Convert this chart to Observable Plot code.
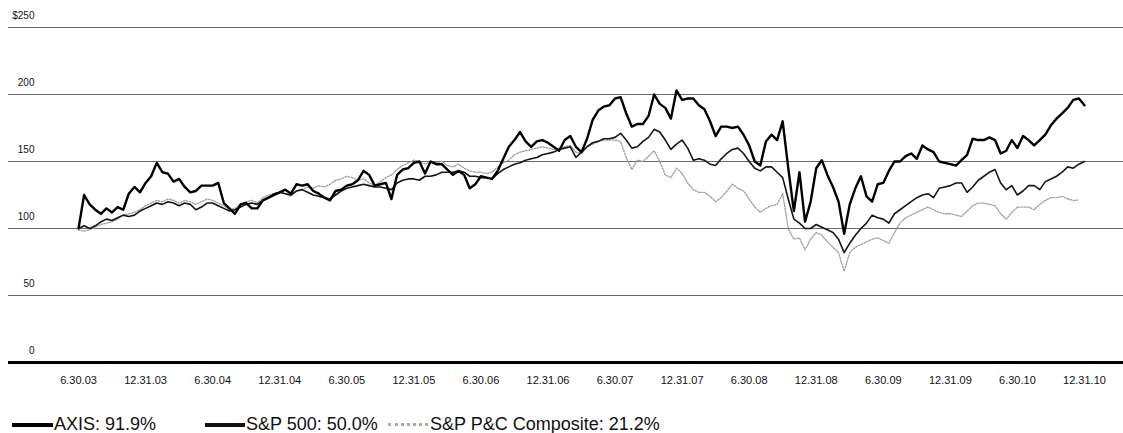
<!DOCTYPE html>
<html>
<head>
<meta charset="utf-8">
<script src="https://cdn.jsdelivr.net/npm/d3@7"></script>
<script src="https://cdn.jsdelivr.net/npm/@observablehq/plot@0.6"></script>
<style>
  html, body { margin: 0; padding: 0; background: #fff; }
  #wrap { position: relative; width: 1123px; height: 433px; font-family: "Liberation Sans", Arial, sans-serif; }
  #chart { position: absolute; left: 0; top: 0; }
  .lg { position: absolute; top: 414px; font-size: 18px; line-height: 20px; color: #111; white-space: nowrap; }
  .sw { position: absolute; top: 423px; height: 0; }
</style>
</head>
<body>
<div id="wrap">
  <div id="chart"></div>
  <div class="sw" style="left:12px;width:41px;border-top:4px solid #000;"></div>
  <div class="lg" style="left:54px;">AXIS: 91.9%</div>
  <div class="sw" style="left:205px;width:40px;border-top:4px solid #111;"></div>
  <div class="lg" style="left:246px;">S&amp;P 500: 50.0%</div>
  <div class="sw" style="left:388px;width:40px;border-top:3px dotted #aaa;"></div>
  <div class="lg" style="left:430px;">S&amp;P P&amp;C Composite: 21.2%</div>
</div>
<script>
// semi-monthly observations starting 6.30.03
const seriesNames = ["AXIS", "S&P 500", "S&P P&C Composite"];

const axisValues = [
100,125,118,114,111,115,112,116,114,126,131,127,134,139,149,142,141,135,137,131,
127,128,132,132,132,134,119,115,111,118,119,115,115,121,123,125,127,129,126,133,
132,133,128,126,123,121,128,129,132,133,136,143,140,132,133,134,122,140,144,145,
149,150,141,150,148,148,144,140,143,140,130,133,139,138,137,143,152,161,166,172,
165,161,165,166,164,161,158,166,169,161,157,167,181,188,191,192,197,198,186,176,
178,178,184,200,193,190,182,203,196,197,197,192,189,180,169,176,176,175,176,170,
162,150,147,165,170,166,180,145,113,142,105,120,145,151,140,131,120,96,118,130,
139,124,120,133,134,143,150,150,154,156,152,162,159,157,150,149,148,147,151,155,
167,166,166,168,166,156,158,166,160,169,166,162,166,170,177,182,186,190,196,197,
191.9];

const sp500Values = [
100,102,100,102,105,107,106,108,110,109,110,113,115,117,119,118,120,119,117,119,
118,114,116,119,119,117,115,113,114,116,118,119,118,121,123,126,127,126,125,128,
129,127,125,124,123,122,125,128,130,131,132,133,132,131,131,130,129,134,136,137,
137,136,139,139,140,142,142,142,143,142,139,139,138,138,137,141,144,146,148,149,
151,152,153,155,156,157,159,160,161,153,157,161,164,165,167,167,168,171,166,160,
161,165,168,174,172,166,159,163,166,160,151,152,151,148,147,152,156,159,160,156,
150,145,143,146,146,142,138,122,107,104,100,100,103,101,99,97,92,82,89,95,
100,104,110,108,107,104,111,114,117,120,123,125,126,123,130,131,132,134,134,127,
131,136,139,142,144,134,129,132,125,128,132,132,129,135,137,139,142,146,145,148,
150.0];

const pcValues = [
99,98,99,101,103,104,105,107,110,111,112,114,117,119,121,120,122,121,119,121,
120,118,120,122,121,119,117,114,115,118,120,121,119,123,125,126,127,126,124,128,
129,131,130,132,131,133,136,137,139,138,136,137,134,132,135,138,140,144,147,149,
151,150,148,150,149,150,147,146,148,145,143,142,142,141,142,146,149,151,155,157,
158,159,160,161,160,159,160,161,162,157,156,161,163,165,166,166,166,165,153,144,
151,150,154,158,150,140,138,145,141,134,129,127,127,124,120,123,128,133,130,128,
122,116,112,115,117,118,126,100,92,93,84,92,97,95,90,86,82,68,82,86,
88,90,92,93,91,89,97,104,108,110,112,114,116,114,112,111,111,110,109,113,
117,119,119,118,117,111,107,112,116,116,116,114,118,121,123,123,124,122,121,
121.2];

const yTicks = [0, 50, 100, 150, 200, 250];
const xTickLabels = ["6.30.03","12.31.03","6.30.04","12.31.04","6.30.05","12.31.05","6.30.06","12.31.06",
                     "6.30.07","12.31.07","6.30.08","12.31.08","6.30.09","12.31.09","6.30.10","12.31.10"];
const xTicks = xTickLabels.map((_, i) => 2003.5 + i * 0.5);

const toRows = (vals, name) => vals.map((v, i) => ({t: 2003.5 + i / 24, v, s: name}));
const axisRows = toRows(axisValues, seriesNames[0]);
const spRows = toRows(sp500Values, seriesNames[1]);
const pcRows = toRows(pcValues, seriesNames[2]);

const chart = Plot.plot({
  width: 1123,
  height: 390,
  marginLeft: 8,
  marginRight: 0,
  marginTop: 27,
  marginBottom: 28,
  x: {type: "linear", domain: [2002.978, 2011.291], axis: null},
  y: {domain: [0, 250], axis: null},
  style: {fontFamily: "'Liberation Sans', Arial, sans-serif", background: "#fff", color: "#111"},
  marks: [
    Plot.ruleY(yTicks.filter(d => d > 0), {stroke: "#6a6a6a", strokeWidth: 1}),
    Plot.line(pcRows, {x: "t", y: "v", stroke: "#9c9c9c", strokeWidth: 1.3, strokeDasharray: "1.5,1.5"}),
    Plot.line(spRows, {x: "t", y: "v", stroke: "#151515", strokeWidth: 1.6}),
    Plot.line(axisRows, {x: "t", y: "v", stroke: "#000", strokeWidth: 2.4}),
    Plot.ruleY([0], {stroke: "#000", strokeWidth: 3}),
    Plot.axisY(yTicks, {anchor: "left", label: null, tickSize: 0, tickPadding: 0, dx: 26, dy: -12, fontSize: 10,
      tickFormat: d => d === 250 ? "$250" : String(d)}),
    Plot.axisX(xTicks, {anchor: "bottom", label: null, tickSize: 0, tickPadding: 14, fontSize: 11,
      tickFormat: d => xTickLabels[Math.round((d - 2003.5) * 2)]})
  ]
});
document.getElementById("chart").appendChild(chart);
</script>
</body>
</html>
